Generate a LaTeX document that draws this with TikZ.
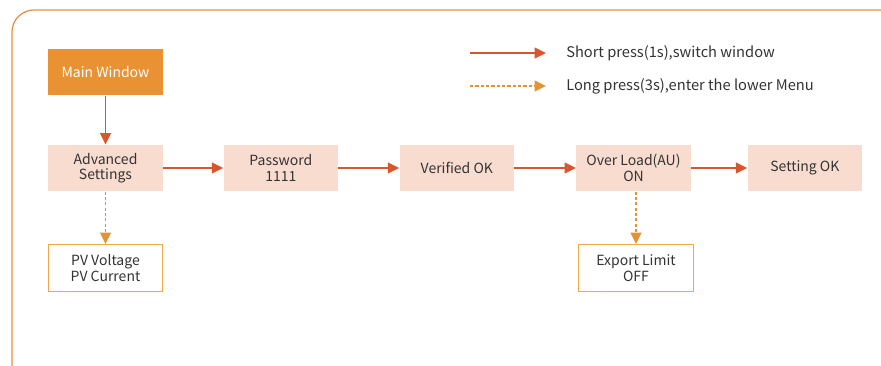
\documentclass[tikz,border=0pt]{standalone}
\usepackage{fontspec}
\setmainfont{Noto Sans CJK SC}
\usepackage{tikz}
\usetikzlibrary{positioning, arrows.meta}
\definecolor{mainfill}{HTML}{E89234}
\definecolor{menufill}{HTML}{F8DCD0}
\definecolor{subdraw}{HTML}{F0A848}
\definecolor{shortcol}{HTML}{D9552E}
\definecolor{longcol}{HTML}{E39335}
\definecolor{frametop}{HTML}{F7B484}
\definecolor{frameleft}{HTML}{EE8A3E}
\definecolor{txtcol}{HTML}{333333}

\tikzset{
  menubox/.style={fill=menufill, minimum width=86pt, minimum height=35pt,
    align=center, text=txtcol},
  mainbox/.style={menubox, fill=mainfill, text=white},
  subbox/.style={menubox, fill=white, draw=subdraw, line width=0.9pt},
  shortpress/.style={draw=shortcol, line width=1.4pt,
    -{Triangle[length=8.5pt,width=8pt]}},
  longpress/.style={draw=longcol, line width=1.4pt, dash pattern=on 2.4pt off 1.6pt,
    -{Triangle[length=8.5pt,width=8pt]}},
  legendtext/.style={anchor=west, text=txtcol, inner sep=0pt,
    font=\fontsize{11}{12}\selectfont}
}

\begin{document}
\begin{tikzpicture}[x=0.75pt, y=-0.75pt, node distance=132pt, on grid,
    font=\fontsize{10.5}{11.6}\selectfont]
   \useasboundingbox (0,0) rectangle (881,366);

   % outer frame
   \draw[frameleft, line width=0.9pt] (12,370) -- (12,32) arc[start angle=180, end angle=270, radius=22];
   \draw[frametop, line width=0.9pt] (34,10) -- (885,10);

   % main row
   \node[menubox] (adv) at (105.5,168) {Advanced\\Settings};
   \node[mainbox] (main) [above=72pt of adv] {Main Window};
   \node[menubox] (pwd) [right=131.5pt of adv] {Password\\1111};
   \node[menubox] (ver) [right=132pt of pwd] {Verified OK};
   \node[menubox] (ovl) [right=132.5pt of ver] {Over Load(AU)\\ON};
   \node[menubox] (set) [right=128.5pt of ovl] {Setting OK};

   % lower menus
   \node[subbox] (pv) [below=75pt of adv] {PV Voltage\\PV Current};
   \node[subbox] (exp) at (636,268) {Export Limit\\OFF};

   % legend
   \coordinate (sa) at (470,53);
   \coordinate (sb) at (546,53);
   \coordinate (la) at (470,86);
   \coordinate (lb) at (546,86);
   \node[legendtext] (stxt) at (566,53) {Short press(1s),switch window};
   \node[legendtext] (ltxt) at (566,86) {Long press(3s),enter the lower Menu};

   % short press
   \draw[shortpress] (sa) -- (sb);
   \draw[shortpress] (main) -- (adv);
   \draw[shortpress] (adv) -- (pwd);
   \draw[shortpress] (pwd) -- (ver);
   \draw[shortpress] (ver) -- (ovl);
   \draw[shortpress] (ovl) -- (set);

   % long press
   \draw[longpress] (la) -- (lb);
   \draw[longpress] (adv) -- (pv);
   \draw[longpress] (ovl.south -| exp.north) -- (exp.north);
\end{tikzpicture}
\end{document}
